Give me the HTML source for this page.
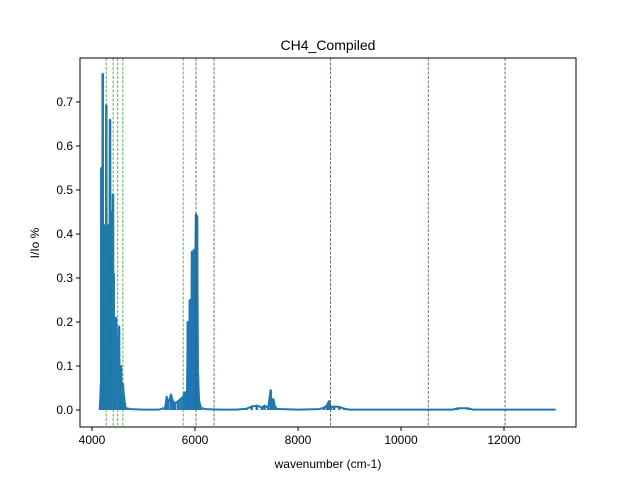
<!DOCTYPE html>
<html><head><meta charset="utf-8"><style>
body{margin:0;background:#fff;}
svg text{font-family:"Liberation Sans","DejaVu Sans",sans-serif;fill:#000;}
</style></head><body>
<svg id="chart" width="640" height="480" viewBox="0 0 640 480" xmlns="http://www.w3.org/2000/svg">
<rect width="640" height="480" fill="#fff"/>
<text x="328" y="50" font-size="14" text-anchor="middle">CH4_Compiled</text>
<text x="328" y="468" font-size="12" text-anchor="middle">wavenumber (cm-1)</text>
<text x="39" y="243" font-size="12" text-anchor="middle" transform="rotate(-90 39 243)">I/Io %</text>
<g id="marks"></g>
<g id="axes"></g>
</svg>
<script>
const wavenumbers=[4150,4175,4181,4190,4200,4208,4215,4240,4260,4278,4290,4310,4330,4350,4365,4385,4400,4408,4415,4421,4440,4466,4480,4500,4524,4540,4563,4580,4600,4621,4650,4680,4750,5000,5300,5420,5451,5480,5534,5570,5612,5670,5720,5767,5800,5845,5860,5884,5900,5920,5942,5961,5980,6000,6020,6040,6058,6080,6117,6200,6500,6800,7000,7100,7200,7300,7350,7420,7470,7490,7520,7550,7580,7700,8000,8400,8500,8560,8600,8640,8700,8800,8900,9000,9500,10500,11000,11100,11300,11400,12000,13000];
const intensities=[0.0,0.06,0.55,0.02,0.45,0.764,0.03,0.42,0.05,0.693,0.06,0.42,0.05,0.66,0.04,0.45,0.05,0.49,0.03,0.31,0.02,0.21,0.01,0.15,0.19,0.01,0.10,0.01,0.06,0.03,0.005,0.004,0.002,0.001,0.001,0.005,0.03,0.015,0.035,0.02,0.015,0.02,0.025,0.03,0.04,0.04,0.2,0.1,0.25,0.1,0.36,0.2,0.364,0.3,0.445,0.44,0.08,0.02,0.005,0.002,0.001,0.001,0.003,0.008,0.01,0.006,0.01,0.005,0.045,0.005,0.025,0.01,0.003,0.002,0.001,0.002,0.005,0.01,0.02,0.006,0.008,0.007,0.003,0.001,0.001,0.001,0.001,0.004,0.004,0.001,0.001,0.001];
const markerLines=[4275,4410,4500,4600,5770];
const refLines=[6020,6370,8630,10530,12020];
const xTicks=[4000,6000,8000,10000,12000];
const yTicks=[0.0,0.1,0.2,0.3,0.4,0.5,0.6,0.7];
const L=80,R=576,T=58,B=427;
const xMin=3767,xMax=13398,yMin=-0.0386,yMax=0.8;
function X(v){return L+(v-xMin)/(xMax-xMin)*(R-L);}
function Y(v){return B-(v-yMin)/(yMax-yMin)*(B-T);}
const NS="http://www.w3.org/2000/svg";
const marks=document.getElementById('marks'),axes=document.getElementById('axes');
function mk(tag,attrs,parent){const e=document.createElementNS(NS,tag);for(const k in attrs)e.setAttribute(k,attrs[k]);parent.appendChild(e);return e;}
// spectrum
let d='';
wavenumbers.forEach((w,i)=>{d+=(i?'L':'M')+X(w).toFixed(1)+','+Y(intensities[i]).toFixed(1);});
const p=mk('path',{d:d,fill:'none',stroke:'#1f77b4','stroke-width':2,'stroke-linejoin':'round'},marks);


const sticks=mk('g',{},marks);


wavenumbers.forEach((w,i)=>{
  const s=mk('line',{x1:X(w),x2:X(w),y1:Y(0),y2:Y(intensities[i]),stroke:'#1f77b4','stroke-width':2.5},sticks);
  
  
});
markerLines.forEach(w=>{
  const l=mk('line',{x1:X(w),x2:X(w),y1:T,y2:B,stroke:'#2ca02c','stroke-width':0.8,'stroke-dasharray':'3,1.5'},marks);
  
  
});
refLines.forEach(w=>{
  const l=mk('line',{x1:X(w),x2:X(w),y1:T,y2:B,stroke:'#3d5a3d','stroke-width':0.8,'stroke-dasharray':'3,1.5'},marks);
  
  
});
const frame=mk('rect',{x:L,y:T,width:R-L,height:B-T,fill:'none',stroke:'#000','stroke-width':1},axes);


xTicks.forEach(v=>{
  const t=mk('line',{x1:X(v),x2:X(v),y1:B,y2:B+4,stroke:'#000'},axes);
  
  
  const tx=mk('text',{x:X(v),y:B+17,'font-size':12,'text-anchor':'middle'},axes);
  tx.textContent=v;
  
  
});
yTicks.forEach(v=>{
  const t=mk('line',{x1:L-4,x2:L,y1:Y(v),y2:Y(v),stroke:'#000'},axes);
  
  
  const tx=mk('text',{x:L-7,y:Y(v)+4,'font-size':12,'text-anchor':'end'},axes);
  tx.textContent=v.toFixed(1);
  
  
});
</script>
</body></html>
